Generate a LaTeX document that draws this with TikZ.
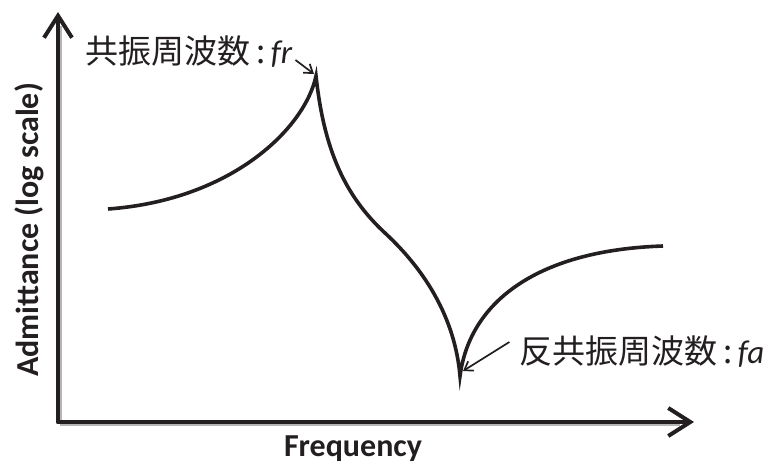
\documentclass[tikz,border=0pt]{standalone}
\usepackage{fontspec}
\setmainfont{Carlito}
\newfontfamily\cjk{Noto Sans CJK JP}
\usepackage{xcolor}
\usetikzlibrary{arrows.meta,calc}
\definecolor{ink}{HTML}{231F20}
\definecolor{shade}{HTML}{B5B5B5}
\tikzset{
  axes/.style={-{Straight Barb[length=22pt,width=28pt]}, line width=4pt, draw=ink, line cap=round, line join=round},
  axshade/.style={line width=4pt, draw=shade},
  curve/.style={line width=3.6pt, draw=ink, line join=miter},
  pointer/.style={-{Straight Barb[length=8pt,width=11pt]}, line width=1.7pt, draw=ink},
  lab/.style={text=ink, font=\cjk\fontsize{33}{38}\selectfont, inner sep=0pt},
  axlab/.style={text=ink, font=\bfseries\fontsize{32}{38}\selectfont, inner sep=0pt}
}

\begin{document}
\begin{tikzpicture}[x=1pt,y=-1pt]
  \useasboundingbox (0,0) rectangle (765,471);

  % axes
  \coordinate (O) at (58,422);
  \coordinate (ytop) at (58,12);
  \coordinate (xend) at (694,422);
  \draw[axshade] ($(O)+(2,2)$) -- ($(xend)+(-14,2)$);
  \draw[axshade] ($(O)+(2,2)$) -- ($(ytop)+(2,14)$);
  \draw[axes] (O) -- (ytop);
  \draw[axes] (O) -- (xend);
  \node[axlab] (xlab) at (353,449) {Frequency};
  \node[axlab, rotate=90] (ylab) at (29,230) {Admittance (log scale)};

  % admittance curve
  \coordinate (start) at (108,209);
  \coordinate (peak) at (316,76);
  \coordinate (bend) at (385,233);
  \coordinate (dip) at (460,376);
  \coordinate (stop) at (663,246);
  \draw[curve] (start) .. controls (232,200) and (305,128) .. (peak)
    .. controls (324,150) and (345,196) .. (bend)
    .. controls (425,270) and (455,318) .. (dip)
    .. controls (470,300) and (540,250) .. (stop);

  % labels
  \node[lab] (frlab) at (189,52) {共振周波数\,:\,{\rmfamily\itshape fr}};
  \node[lab] (falab) at (642,352) {反共振周波数\,:\,{\rmfamily\itshape fa}};
  \draw[pointer] ([xshift=3pt,yshift=-8pt]frlab.east) -- ([xshift=-2pt,yshift=2pt]peak);
  \draw[pointer] ([xshift=-10pt,yshift=10pt]falab.west) -- ([xshift=3pt,yshift=5pt]dip);
\end{tikzpicture}
\end{document}
